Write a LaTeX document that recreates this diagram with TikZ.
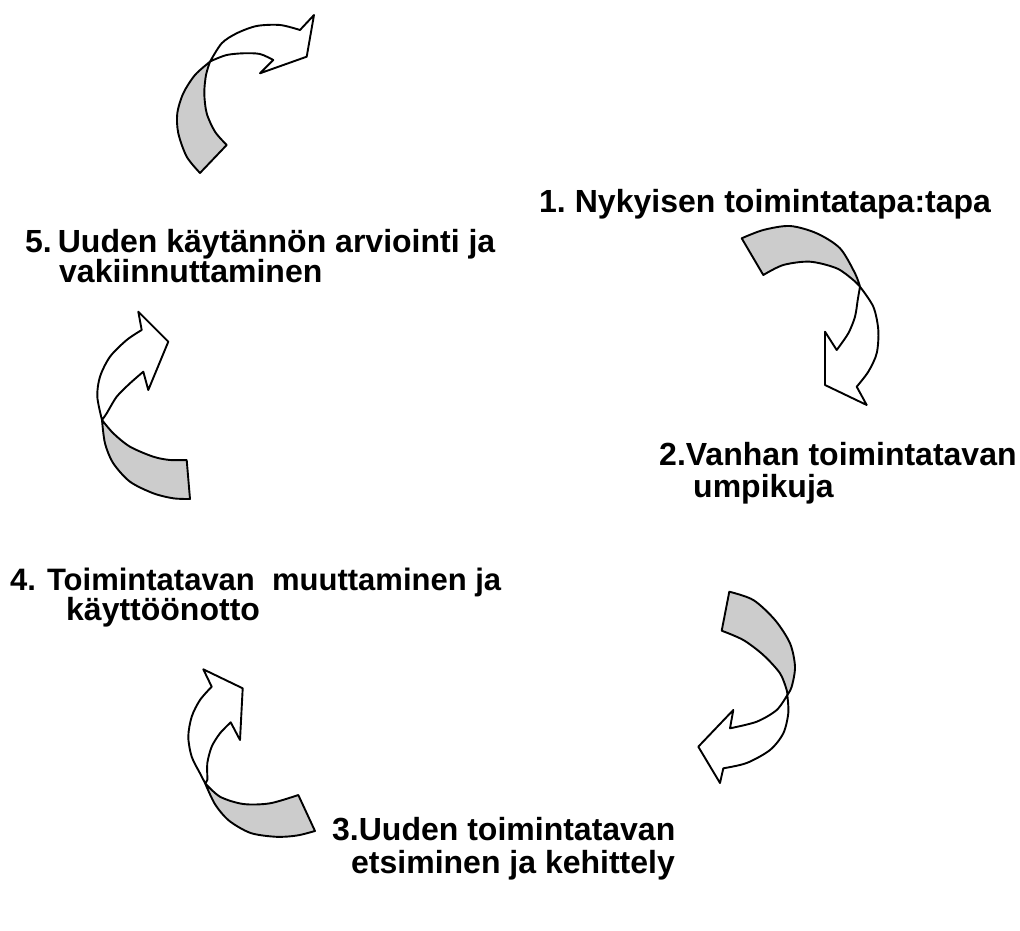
\documentclass[tikz,border=0pt]{standalone}
\usepackage{fontspec}
\setmainfont{Liberation Sans}

\begin{document}
\begin{tikzpicture}[
    x=1pt, y=-1pt,
    back/.style={draw, line width=1.9pt, line join=round, fill=black!20},
    front/.style={draw, line width=1.9pt, line join=round, fill=white},
    steptext/.style={anchor=base west, inner sep=0pt, font=\fontsize{32}{36}\selectfont\bfseries},
]
\useasboundingbox (0,0) rectangle (1020,931);

% top arrow
\draw[back] (200,173) -- plot[smooth] coordinates {(200,173) (186.7,156.7) (178.3,133.3) (177.3,113.3) (183.3,93.3) (195,75) (210,61.7)}
    -- plot[smooth] coordinates {(210,61.7) (206,75) (204.3,93.3) (206.7,113.3) (215,131.7) (226.7,145)} -- cycle;
\draw[front] (210,61.7) -- plot[smooth] coordinates {(210,61.7) (221.7,43.3) (236.7,33.3) (256.7,26) (280,25) (300,30)}
    -- (314,15) -- (306.7,56.7) -- (260,73.3) -- (273.3,60)
    -- plot[smooth] coordinates {(273.3,60) (260,54) (243.3,53.3) (226.7,55) (213.3,60) (210,61.7)} -- cycle;

% right upper arrow
\draw[back] (741.7,238.3) -- plot[smooth] coordinates {(741.7,238.3) (763.3,230) (790,226) (816.7,233.3) (840,248.3) (855,273.3) (860,286.7)}
    -- plot[smooth] coordinates {(860,286.7) (853.3,280) (836.7,268.3) (810,261.7) (783.3,265) (763.3,275)} -- cycle;
\draw[front] (860,286.7) -- plot[smooth] coordinates {(860,286.7) (873.3,306.7) (878.3,330) (876.7,353.3) (868.3,371.7) (856.7,386.7)}
    -- (866.7,405) -- (825,385) -- (825,331.7) -- (836.7,350)
    -- plot[smooth] coordinates {(836.7,350) (848.3,333.3) (855,316.7) (857.7,300) (860,286.7)} -- cycle;

% right lower arrow
\draw[back] (729.3,591.7) -- plot[smooth] coordinates {(729.3,591.7) (753.3,600) (775,620) (790,643.3) (795,666.7) (791.7,686.7) (787.3,695)}
    -- plot[smooth] coordinates {(787.3,695) (786.7,690) (780,673.3) (763.3,655) (743.3,640) (721.7,630.7)} -- cycle;
\draw[front] (787.3,695) -- plot[smooth] coordinates {(787.3,695) (776.7,710) (756.7,721.7) (730,728.3)}
    -- (733.3,710) -- (698.3,746.7) -- (720,783) -- (723.3,768.3)
    -- plot[smooth] coordinates {(723.3,768.3) (746.7,763) (770,750) (783.3,733.3) (788.3,713) (787.3,695)} -- cycle;

% left lower arrow
\draw[back] (205,783) -- plot[smooth] coordinates {(205,783) (220,796.7) (243.3,804) (270,803.3) (298.3,795)}
    -- (315,831)
    -- plot[smooth] coordinates {(315,831) (297,835.5) (276.4,836.8) (250.7,833) (229.1,820.7) (215,804.2) (205,783)} -- cycle;
\draw[front] (205,783) -- plot[smooth] coordinates {(205,783) (200,773.3) (191.7,756.7) (188.3,736.7) (191.7,716.7) (200,700) (211.7,686.7)}
    -- (203.3,669.3) -- (242.7,688.3) -- (240,740) -- (230.7,722.3)
    -- plot[smooth] coordinates {(230.7,722.3) (220,733.3) (211.7,746.7) (207.3,763.3) (207.3,780) (205,783)} -- cycle;

% left upper arrow
\draw[back] (102,420) -- plot[smooth] coordinates {(102,420) (113.3,433.3) (130,446.7) (153.3,456.7) (170,460) (186.7,460)}
    -- (190,499)
    -- plot[smooth] coordinates {(190,499) (173.3,498.3) (153.3,493.3) (130,481.7) (113.3,463.3) (105,443.3) (102,420)} -- cycle;
\draw[front] (102,420) -- plot[smooth] coordinates {(102,420) (97.3,396.7) (100,376.7) (110,356.7) (126.7,340) (141.7,330)}
    -- (138.3,311.7) -- (168.3,341.7) -- (148.3,390) -- (143.3,371.7)
    -- plot[smooth] coordinates {(143.3,371.7) (130,383.3) (116.7,396.7) (106.7,413.3) (102,420)} -- cycle;

% Steps
\node[steptext] (s1) at (539,212) {1.\hspace*{9pt}Nykyisen toimintatapa:tapa};
\node[steptext] (s2a) at (659,465) {2.Vanhan toimintatavan};
\node[steptext] (s2b) at (693,497) {umpikuja};
\node[steptext] (s3a) at (332,840) {3.Uuden toimintatavan};
\node[steptext] (s3b) at (351,873) {etsiminen ja kehittely};
\node[steptext, font=\fontsize{31}{36}\selectfont\bfseries] (s4a) at (10,590) {4.\hspace*{11pt}Toimintatavan\ \ muuttaminen ja};
\node[steptext] (s4b) at (66,620) {käyttöönotto};
\node[steptext] (s5a) at (25,252) {5.\hspace*{6pt}Uuden käytännön arviointi ja};
\node[steptext] (s5b) at (59,282) {vakiinnuttaminen};
\end{tikzpicture}
\end{document}
